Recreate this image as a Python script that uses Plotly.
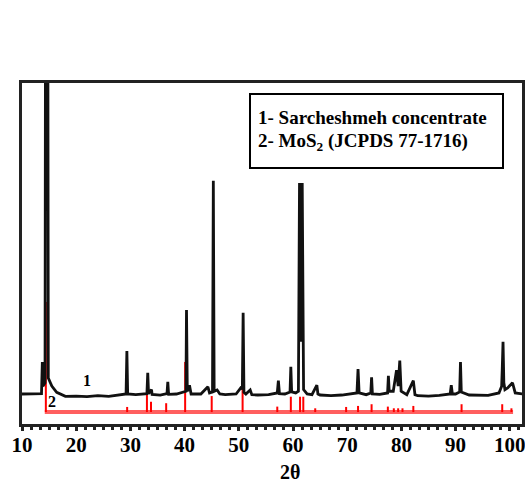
import plotly.graph_objects as go

# ---- Data ----
# Pattern 1: Sarcheshmeh concentrate (intensity above its own baseline)
black_x = [10.0, 12.0, 13.6, 13.75, 13.85, 14.25, 14.35, 14.75, 14.85, 15.5, 16.4,
           18.0, 20.0, 22.0, 24.0, 26.0, 28.0, 29.2, 29.35, 29.5, 31.0,
           33.05, 33.2, 33.35, 33.9, 34.0, 35.5, 36.75, 36.9, 37.05, 38.5,
           40.25, 40.35, 40.5, 40.9, 41.2, 43.0, 44.3, 44.6, 45.15, 45.3, 45.45,
           46.0, 46.5, 47.5, 49.5, 50.5, 50.65, 50.8, 50.95, 51.3, 52.1, 52.4,
           53.5, 55.5, 57.1, 57.3, 57.5, 58.5, 59.45, 59.6, 59.75, 60.5,
           61.0, 61.2, 61.45, 61.7, 61.95, 62.6, 63.5, 64.4, 64.6, 65.0, 67.0,
           69.0, 70.5, 71.8, 72.0, 72.2, 73.5, 74.35, 74.5, 74.65, 76.0,
           77.45, 77.6, 77.75, 78.5, 79.1, 79.4, 79.7, 79.95, 81.0, 82.2, 82.5,
           83.0, 85.0, 87.0, 89.0, 89.2, 89.4, 90.0, 90.75, 90.9, 91.05, 92.5,
           94.0, 96.0, 98.0, 98.5, 98.6, 98.75, 98.9, 99.1, 99.6, 100.5, 101.0, 102.3]
black_y = [-0.3, -0.3, -0.2, 9.1, 2.0, 3.0, 130.0, 130.0, 4.4, 2.0, 0.2,
           -1.0, -0.9, -1.1, -0.8, -1.0, -0.5, -0.3, 12.3, -0.3, -0.5,
           -0.2, 5.9, -0.2, 1.0, -0.4, -0.6, -0.2, 3.3, -0.4, -0.3,
           0.5, 24.3, 0.5, 2.3, -0.3, -0.3, 1.8, 0.0, 0.3, 62.2, 0.5,
           0.9, -0.3, -0.5, -0.3, 1.8, 1.0, 23.5, 0.2, -0.3, 0.9, -0.5,
           -0.6, -0.5, 0.0, 3.6, -0.2, -0.3, 0.3, 7.7, 0.3, 0.0,
           0.5, 61.6, 15.0, 61.6, 1.0, -0.3, -0.5, 2.3, -0.3, -0.6, -0.8,
           -0.6, -0.3, 0.0, 7.0, 0.0, -0.5, 0.0, 4.6, -0.3, -0.4,
           0.0, 5.0, 0.5, 0.5, 6.7, 2.0, 9.5, 0.5, -0.5, 3.6, -0.5,
           -0.8, -0.9, -0.7, -0.3, 2.3, -0.3, -0.3, 0.3, 9.1, 0.3, -0.6,
           -0.6, -0.7, 0.0, 2.0, 6.7, 15.0, 3.0, 1.0, 1.5, 3.0, 0.0, -0.3]

# Pattern 2: MoS2 reference lines (JCPDS 77-1716)
red_pos = [14.4, 29.4, 33.05, 33.8, 36.6, 40.1, 45.0, 50.7, 57.1, 59.6, 61.3, 61.9,
           64.1, 69.8, 72.0, 74.5, 77.5, 78.6, 79.4, 80.2, 82.2, 91.1, 98.6, 100.3]
red_h = [32.3, 1.5, 5.0, 3.0, 2.6, 14.7, 4.7, 8.4, 1.6, 4.5, 4.5, 4.5,
         1.1, 1.5, 1.8, 2.3, 1.6, 1.1, 1.1, 1.1, 1.8, 2.3, 2.3, 1.1]
red_span = [14.2, 100.6]

x_ticks = [10, 20, 30, 40, 50, 60, 70, 80, 90, 100]
legend_lines = ["1- Sarcheshmeh concentrate", "2- MoS<sub>2</sub> (JCPDS 77-1716)"]

# ---- Layout constants ----
OFFSET_1 = 9.1   # vertical offset of pattern 1
OFFSET_2 = 3.5   # vertical offset of pattern 2
FONT = "Liberation Serif"

fig = go.Figure()

# reference baseline
fig.add_trace(go.Scatter(x=red_span, y=[OFFSET_2, OFFSET_2], mode="lines",
                         line=dict(color="rgb(255,95,95)", width=4),
                         hoverinfo="skip", showlegend=False))
# reference sticks
sx, sy = [], []
for p, h in zip(red_pos, red_h):
    sx += [p, p, None]
    sy += [OFFSET_2, OFFSET_2 + h, None]
fig.add_trace(go.Scatter(x=sx, y=sy, mode="lines",
                         line=dict(color="#ff0000", width=2),
                         showlegend=False))
# measured pattern
fig.add_trace(go.Scatter(x=black_x, y=[v + OFFSET_1 for v in black_y], mode="lines",
                         line=dict(color="#111111", width=2.8),
                         showlegend=False))

fig.add_annotation(x=22.0, y=12.9, text="<b>1</b>", showarrow=False,
                   font=dict(family=FONT, size=16, color="black"))
fig.add_annotation(x=15.5, y=6.7, text="<b>2</b>", showarrow=False,
                   font=dict(family=FONT, size=16, color="black"))

# legend box
fig.add_shape(type="rect", xref="paper", yref="paper",
              x0=0.456, x1=0.962, y0=0.751, y1=0.968,
              line=dict(color="black", width=2), fillcolor="white")
for txt, yy in zip(legend_lines, [0.900, 0.827]):
    fig.add_annotation(xref="paper", yref="paper", x=0.468, y=yy,
                       xanchor="left", yanchor="middle", showarrow=False,
                       text="<b>" + txt + "</b>",
                       font=dict(family=FONT, size=19, color="black"))

# axis title
fig.add_annotation(xref="x", yref="paper", x=59.45, y=-0.141,
                   text="<b>2θ</b>", showarrow=False, yanchor="middle",
                   font=dict(family=FONT, size=20, color="black"))

fig.update_layout(
    width=525, height=490,
    margin=dict(l=22, r=3, t=83, b=66, autoexpand=False),
    plot_bgcolor="white", paper_bgcolor="white",
    xaxis=dict(range=[10, 102.25], tickvals=x_ticks, ticktext=[str(t) for t in x_ticks],
               automargin=False, ticklabeloverflow="allow", ticklabelstandoff=-4,
               ticks="outside", ticklen=4, tickwidth=3, tickcolor="#222",
               showline=True, linecolor="#222", linewidth=3, mirror=True,
               showgrid=False, zeroline=False,
               tickfont=dict(family=FONT, size=21, color="black", weight="bold"),
               minor=dict(dtick=10 / 6, tick0=10, ticks="outside", ticklen=3, tickwidth=3,
                          tickcolor="#222", showgrid=False)),
    yaxis=dict(range=[0, 100], showticklabels=False, ticks="", automargin=False,
               showline=True, linecolor="#222", linewidth=2.5, mirror=True,
               showgrid=False, zeroline=False),
)

fig.write_html("out.html", config={"displayModeBar": False},
               post_script="document.body.style.margin='0';document.body.style.overflow='hidden';")
